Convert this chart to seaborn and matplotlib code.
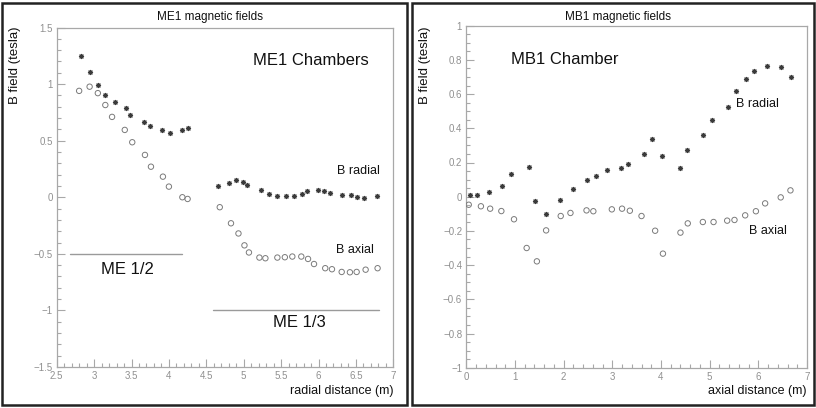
import numpy as np
import pandas as pd
import matplotlib
matplotlib.use("Agg")
import matplotlib.pyplot as plt
from matplotlib.ticker import MultipleLocator, FixedLocator, FixedFormatter
from matplotlib.patches import Rectangle
import seaborn as sns

# ---------------- data ----------------
me1_radial_x = [2.83, 2.95, 3.05, 3.15, 3.28, 3.42, 3.48, 3.67, 3.75, 3.91, 4.02, 4.18, 4.26,
                4.65, 4.81, 4.90, 4.99, 5.05, 5.23, 5.34, 5.45, 5.56, 5.67, 5.78, 5.85, 5.99,
                6.08, 6.15, 6.31, 6.44, 6.52, 6.61, 6.78]
me1_radial_y = [1.25, 1.11, 0.99, 0.905, 0.84, 0.785, 0.725, 0.668, 0.633, 0.595, 0.571, 0.592, 0.61,
                0.10, 0.125, 0.153, 0.135, 0.108, 0.065, 0.033, 0.015, 0.007, 0.013, 0.032, 0.052, 0.066,
                0.057, 0.038, 0.019, 0.019, 0.004, -0.004, 0.007]
me1_axial_x = [2.80, 2.94, 3.05, 3.15, 3.24, 3.41, 3.51, 3.68, 3.76, 3.92, 4.00, 4.18, 4.25,
               4.68, 4.83, 4.93, 5.01, 5.07, 5.21, 5.29, 5.45, 5.55, 5.65, 5.77, 5.86, 5.94,
               6.09, 6.18, 6.31, 6.42, 6.51, 6.63, 6.79]
me1_axial_y = [0.94, 0.977, 0.92, 0.815, 0.71, 0.595, 0.486, 0.374, 0.27, 0.182, 0.094, 0.0, -0.015,
               -0.088, -0.23, -0.32, -0.425, -0.488, -0.533, -0.539, -0.533, -0.53, -0.524, -0.524, -0.545, -0.59,
               -0.627, -0.636, -0.66, -0.663, -0.66, -0.64, -0.627]

mb1_radial_x = [0.07, 0.23, 0.46, 0.74, 0.92, 1.28, 1.42, 1.63, 1.92, 2.19, 2.49, 2.66, 2.90, 3.17, 3.33,
                3.66, 3.82, 4.03, 4.39, 4.53, 4.86, 5.05, 5.37, 5.55, 5.74, 5.91, 6.18, 6.47, 6.68]
mb1_radial_y = [0.01, 0.01, 0.026, 0.063, 0.135, 0.174, -0.023, -0.10, -0.018, 0.047, 0.098, 0.123, 0.156,
                0.17, 0.19, 0.248, 0.337, 0.236, 0.168, 0.275, 0.363, 0.449, 0.526, 0.616, 0.686, 0.735,
                0.764, 0.758, 0.70]
mb1_axial_x = [0.05, 0.30, 0.49, 0.72, 0.98, 1.24, 1.45, 1.64, 1.94, 2.14, 2.47, 2.61, 2.99, 3.20, 3.36,
               3.60, 3.88, 4.04, 4.40, 4.55, 4.86, 5.08, 5.36, 5.51, 5.73, 5.95, 6.14, 6.46, 6.66]
mb1_axial_y = [-0.047, -0.056, -0.07, -0.084, -0.132, -0.30, -0.378, -0.197, -0.113, -0.095, -0.08, -0.085,
               -0.074, -0.07, -0.082, -0.113, -0.199, -0.333, -0.21, -0.156, -0.148, -0.148, -0.14, -0.136,
               -0.109, -0.085, -0.039, -0.004, 0.037]

me1_yticks = [-1.5, -1, -0.5, 0, 0.5, 1, 1.5]
me1_ytick_labels = ["\u22121.5", "\u22121", "\u22120.5", "0", "0.5", "1", "1.5"]
me1_xticks = [2.5, 3, 3.5, 4, 4.5, 5, 5.5, 6, 6.5, 7]
me1_xtick_labels = ["2.5", "3", "3.5", "4", "4.5", "5", "5.5", "6", "6.5", "7"]
mb1_yticks = [-1, -0.8, -0.6, -0.4, -0.2, 0, 0.2, 0.4, 0.6, 0.8, 1]
mb1_ytick_labels = ["\u22121", "\u22120.8", "\u22120.6", "\u22120.4", "\u22120.2", "0", "0.2", "0.4", "0.6", "0.8", "1"]
mb1_xticks = [0, 1, 2, 3, 4, 5, 6, 7]
mb1_xtick_labels = ["0", "1", "2", "3", "4", "5", "6", "7"]

# ---------------- style ----------------
sns.set_theme(style="white")
plt.rcParams["font.family"] = ["Liberation Sans", "DejaVu Sans"]

W, H = 816, 408
fig = plt.figure(figsize=(W / 100, H / 100), dpi=100)
fig.patch.set_facecolor("white")

def px_rect(x0, y0, x1, y1):
    # pixel box (top-left origin) -> figure fraction [l, b, w, h]
    return [x0 / W, 1 - y1 / H, (x1 - x0) / W, (y1 - y0) / H]

ax1 = fig.add_axes(px_rect(56.7, 27.5, 393.3, 367.0))
ax2 = fig.add_axes(px_rect(466.3, 25.7, 807.0, 367.7))

STAR_C = "#3a3a3a"
CIRC_C = "#7a7a7a"
AX_C = "#a8a8a8"
TICKLAB_C = "#909090"

def style_axes(ax, xlim, ylim, xt, xtl, yt, ytl, xminor, yminor):
    ax.set_xlim(*xlim)
    ax.set_ylim(*ylim)
    ax.xaxis.set_major_locator(FixedLocator(xt))
    ax.xaxis.set_major_formatter(FixedFormatter(xtl))
    ax.yaxis.set_major_locator(FixedLocator(yt))
    ax.yaxis.set_major_formatter(FixedFormatter(ytl))
    ax.xaxis.set_minor_locator(MultipleLocator(xminor))
    ax.yaxis.set_minor_locator(MultipleLocator(yminor))
    for s in ax.spines.values():
        s.set_visible(True)
        s.set_color(AX_C)
        s.set_linewidth(0.9)
    ax.tick_params(which="both", direction="in", color=AX_C, width=0.8,
                   labelsize=7, labelcolor=TICKLAB_C, top=False, right=False,
                   left=True, bottom=True)
    ax.tick_params(which="major", length=6, pad=3)
    ax.tick_params(which="minor", length=3)
    ax.set_xlabel("")
    ax.set_ylabel("")
    ax.grid(False)

def draw_points(ax, rx, ry, axx, axy):
    sns.scatterplot(x=rx, y=ry, ax=ax, marker=(8, 2, 0), s=9, color=STAR_C,
                    linewidth=0.8, legend=False, zorder=3)
    sns.scatterplot(x=axx, y=axy, ax=ax, marker="o", s=15, facecolors="none",
                    edgecolor=CIRC_C, linewidth=0.7, legend=False, zorder=3)

# ---- left panel ----
draw_points(ax1, me1_radial_x, me1_radial_y, me1_axial_x, me1_axial_y)
style_axes(ax1, (2.5, 7), (-1.5, 1.5), me1_xticks, me1_xtick_labels,
           me1_yticks, me1_ytick_labels, 0.1, 0.1)
ax1.plot([2.68, 4.18], [-0.5, -0.5], color="#9a9a9a", lw=1.0)
ax1.plot([4.59, 6.81], [-1.0, -1.0], color="#9a9a9a", lw=1.0)
ax1.text(3.45, -0.636, "ME 1/2", fontsize=12, ha="center", va="center", color="#111")
ax1.text(5.75, -1.11, "ME 1/3", fontsize=12, ha="center", va="center", color="#111")
ax1.text(5.12, 1.21, "ME1 Chambers", fontsize=12, ha="left", va="center", color="#111")
ax1.text(6.25, 0.235, "B radial", fontsize=9, ha="left", va="center", color="#111")
ax1.text(6.24, -0.47, "B axial", fontsize=9, ha="left", va="center", color="#111")

# ---- right panel ----
draw_points(ax2, mb1_radial_x, mb1_radial_y, mb1_axial_x, mb1_axial_y)
style_axes(ax2, (0, 7), (-1, 1), mb1_xticks, mb1_xtick_labels,
           mb1_yticks, mb1_ytick_labels, 0.2, 0.05)
ax2.text(0.92, 0.805, "MB1 Chamber", fontsize=12, ha="left", va="center", color="#111")
ax2.text(5.55, 0.54, "B radial", fontsize=9, ha="left", va="center", color="#111")
ax2.text(5.8, -0.2, "B axial", fontsize=9, ha="left", va="center", color="#111")

# ---- titles and axis labels (figure text) ----
fig.text(210 / W, 1 - 17 / H, "ME1 magnetic fields", fontsize=8.5, ha="center", va="center", color="#111")
fig.text(618 / W, 1 - 17 / H, "MB1 magnetic fields", fontsize=8.5, ha="center", va="center", color="#111")
fig.text(15 / W, 1 - 27 / H, "B field (tesla)", fontsize=9.5, rotation=90, ha="center", va="top", color="#111")
fig.text(425 / W, 1 - 27 / H, "B field (tesla)", fontsize=9.5, rotation=90, ha="center", va="top", color="#111")
fig.text(394 / W, 1 - 391 / H, "radial distance (m)", fontsize=9, ha="right", va="center", color="#111")
fig.text(807 / W, 1 - 391 / H, "axial distance (m)", fontsize=9, ha="right", va="center", color="#111")

# ---- panel borders ----
for (x0, y0, x1, y1) in [(2, 3, 407, 405), (412, 3, 814, 405)]:
    l, b, w, h = px_rect(x0, y0, x1, y1)
    fig.patches.append(Rectangle((l, b), w, h, transform=fig.transFigure, fill=False,
                                 edgecolor="#222222", linewidth=1.8, zorder=10))

fig.savefig("out.png", dpi=100)
